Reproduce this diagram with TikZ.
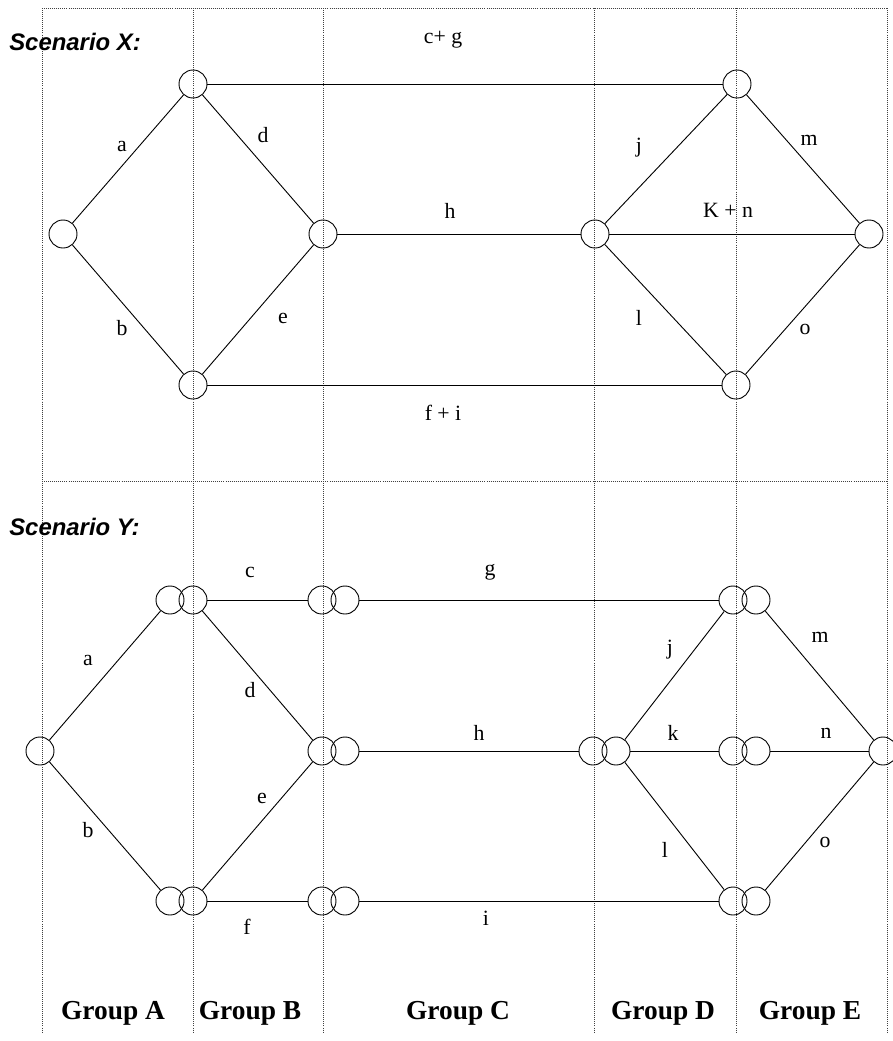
\documentclass[tikz,border=0pt]{standalone}
\usepackage{fontspec}
\setmainfont{Liberation Serif}
\newfontfamily\scenfont{Liberation Sans}
\usepackage{tikz}
\usetikzlibrary{positioning}
\tikzset{
  port/.style={draw,circle,minimum size=0.7cm,inner sep=0pt,line width=0.65pt},
  link/.style={line width=0.65pt},
  grid/.style={densely dotted,line width=0.45pt,black!75},
  lbl/.style={font=\fontsize{15.5}{17}\selectfont,inner sep=1pt},
  grp/.style={font=\fontsize{19.5}{22}\selectfont\bfseries},
  scen/.style={font={\scenfont\bfseries\itshape\fontsize{17}{20}\selectfont},anchor=west,inner sep=0pt}
}

\begin{document}
\begin{tikzpicture}[x=0.025cm,y=-0.025cm]
  \useasboundingbox (0,0) rectangle (893,1041);
  % dotted grid
  \draw[grid] (42,8) -- (887,8);
  \draw[grid] (42,481) -- (887,481);
  \foreach \gx in {42,193,323,594,736,887}
    \draw[grid] (\gx,8) -- (\gx,1033);
  \node[scen] (scx) at (9,42) {Scenario X:};
  \node[scen] (scy) at (9,527) {Scenario Y:};

  % scenario X
  \node[port] (xl)  at (63,234)  {};
  \node[port] (xta) at (193,84)  {};
  \node[port] (xba) at (193,385) {};
  \node[port] (xmb) at (323,234) {};
  \node[port] (xmd) at (595,234) {};
  \node[port] (xtd) at (737,84)  {};
  \node[port] (xbd) at (736,385) {};
  \node[port] (xr)  at (869,234) {};
  \draw[link] (xl) -- (xta);
  \draw[link] (xl) -- (xba);
  \draw[link] (xta) -- (xmb);
  \draw[link] (xba) -- (xmb);
  \draw[link] (xta) -- (xtd);
  \draw[link] (xmb) -- (xmd);
  \draw[link] (xba) -- (xbd);
  \draw[link] (xmd) -- (xtd);
  \draw[link] (xmd) -- (xr);
  \draw[link] (xmd) -- (xbd);
  \draw[link] (xtd) -- (xr);
  \draw[link] (xbd) -- (xr);
  \node[lbl] (xlcg) at (443,40)  {c+ g};
  \node[lbl] (xla)  at (122,146) {a};
  \node[lbl] (xld)  at (263,135) {d};
  \node[lbl] (xlh)  at (450,211) {h};
  \node[lbl] (xlb)  at (122,328) {b};
  \node[lbl] (xle)  at (283,318) {e};
  \node[lbl] (xlfi) at (443,413) {f + i};
  \node[lbl] (xlj)  at (639,148) {j};
  \node[lbl] (xlm)  at (809,140) {m};
  \node[lbl] (xlkn) at (728,210) {K + n};
  \node[lbl] (xll)  at (639,318) {l};
  \node[lbl] (xlo)  at (805,329) {o};

  % scenario Y
  \node[port] (yl) at (40,751) {};
  \node[port] (yr) at (883,751) {};
  \foreach \nm/\px/\py in {ta/170/600,tb/322/600,mb/322/751,md/593/751,td/733/600,
                           me/733/751,ba/170/901,bb/322/901,bd/733/901} {
    \node[port] (y\nm1) at (\px,\py) {};
    \node[port] (y\nm2) at (\px+23,\py) {};
  }
  \draw[link] (yl) -- (yta1);
  \draw[link] (yl) -- (yba1);
  \draw[link] (yta2) -- (ymb1);
  \draw[link] (yba2) -- (ymb1);
  \draw[link] (yta2) -- (ytb1);
  \draw[link] (ytb2) -- (ytd1);
  \draw[link] (ymb2) -- (ymd1);
  \draw[link] (yba2) -- (ybb1);
  \draw[link] (ybb2) -- (ybd1);
  \draw[link] (ymd2) -- (ytd1);
  \draw[link] (ymd2) -- (yme1);
  \draw[link] (ymd2) -- (ybd1);
  \draw[link] (ytd2) -- (yr);
  \draw[link] (yme2) -- (yr);
  \draw[link] (ybd2) -- (yr);
  \node[lbl] (ylc) at (250,572) {c};
  \node[lbl] (ylg) at (490,572) {g};
  \node[lbl] (yla) at (88,660)  {a};
  \node[lbl] (yld) at (250,690) {d};
  \node[lbl] (ylh) at (479,733) {h};
  \node[lbl] (yle) at (262,798) {e};
  \node[lbl] (ylb) at (88,830)  {b};
  \node[lbl] (ylj) at (670,650) {j};
  \node[lbl] (ylm) at (820,637) {m};
  \node[lbl] (ylk) at (673,733) {k};
  \node[lbl] (yln) at (826,733) {n};
  \node[lbl] (yll) at (665,850) {l};
  \node[lbl] (ylo) at (825,842) {o};
  \node[lbl] (ylf) at (247,927) {f};
  \node[lbl] (yli) at (486,918) {i};

  % group labels
  \node[grp] (ga) at (113,1013) {Group A};
  \node[grp] (gb) at (250,1013) {Group B};
  \node[grp] (gc) at (458,1013) {Group C};
  \node[grp] (gd) at (663,1013) {Group D};
  \node[grp] (ge) at (810,1013) {Group E};
\end{tikzpicture}
\end{document}
